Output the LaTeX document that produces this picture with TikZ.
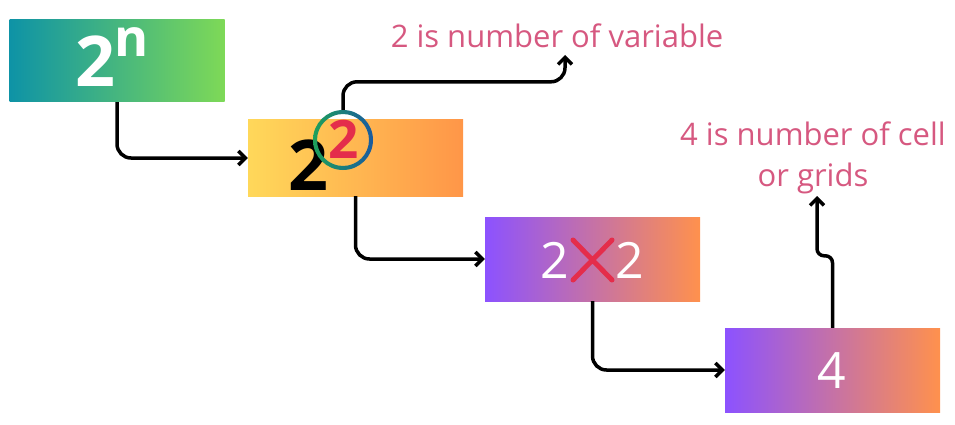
\documentclass[tikz,border=0pt]{standalone}
\usepackage{fontspec}
\setmainfont{Open Sans}
\usetikzlibrary{arrows.meta}
\definecolor{tealA}{RGB}{14,147,166}
\definecolor{greenA}{RGB}{126,217,87}
\definecolor{yellowB}{RGB}{255,216,90}
\definecolor{orangeB}{RGB}{255,150,72}
\definecolor{violetC}{RGB}{140,82,255}
\definecolor{orangeC}{RGB}{255,145,77}
\definecolor{ringgreen}{RGB}{30,160,90}
\definecolor{ringblue}{RGB}{25,90,160}
\definecolor{crossred}{RGB}{228,45,75}
\definecolor{notepink}{RGB}{214,88,128}
\begin{document}
\begin{tikzpicture}[x=1pt,y=-1pt,
    box/.style 2 args={left color=#1,right color=#2,minimum width=215pt,inner sep=0pt},
    link/.style={line width=3.5pt,rounded corners=14pt,-{Straight Barb[length=7pt,width=14pt]}},
    note/.style={text=notepink,font=\fontsize{31}{41}\selectfont,align=center,inner sep=0pt}]
  \useasboundingbox (0,0) rectangle (955,425);
  % boxes
  \node[box={tealA}{greenA},minimum height=82pt] (pow) at (117,61) {};
  \node[box={yellowB}{orangeB},minimum height=76pt] (sq) at (355.5,158) {};
  \node[box={violetC}{orangeC},minimum height=84pt] (mul) at (592.5,259) {};
  \node[box={violetC}{orangeC},minimum height=84pt] (four) at (832.5,370) {};
  % texts in the boxes
  \node[anchor=base,inner sep=0pt,text=white,font=\fontsize{70}{70}\selectfont\bfseries] (base) at (95,87) {2};
  \node[anchor=base,inner sep=0pt,text=white,font=\fontsize{52}{52}\selectfont\bfseries] (expn) at (131.5,57) {n};
  \node[anchor=base,inner sep=0pt,font=\fontsize{70}{70}\selectfont\bfseries] (sqbase) at (308.5,190) {2};
  \node[circle,minimum size=60pt,inner sep=0pt] (ring) at (343,140) {};
  \shade[left color=ringgreen,right color=ringblue,even odd rule] (ring.center) circle (30) circle (26);
  \node[anchor=base,inner sep=0pt,text=crossred,font=\fontsize{53}{53}\selectfont\bfseries] (sqexp) at (344,158) {2};
  \node[anchor=base,inner sep=0pt,text=white,font=\fontsize{50}{50}\selectfont] (lft) at (554.5,278) {2};
  \node[anchor=base,inner sep=0pt,text=white,font=\fontsize{50}{50}\selectfont] (rgt) at (629.5,278) {2};
  \draw[crossred,line width=5pt,line cap=round] (573,240)--(612,280) (573,280)--(612,240);
  \node[anchor=base,inner sep=0pt,text=white,font=\fontsize{50}{50}\selectfont] (cells) at (832,388) {4};
  % notes
  \node[note,anchor=base] (var) at (557,48) {2 is number of variable};
  \node[note,anchor=base] (cell) at (813,186) {4 is number of cell\\or grids};
  \coordinate (vartip) at (565,55);
  \coordinate (celltip) at (817,196);
  % connectors
  \draw[link] (pow.south) |- (sq.west);
  \draw[link] (ring.north) -- ++(0,-28) -| (vartip);
  \draw[link] (sq.south) |- (mul.west);
  \draw[link] (mul.south) |- (four.west);
  \draw[link,rounded corners=7pt] (four.north) -- ++(0,-72) -| (celltip);
\end{tikzpicture}
\end{document}
